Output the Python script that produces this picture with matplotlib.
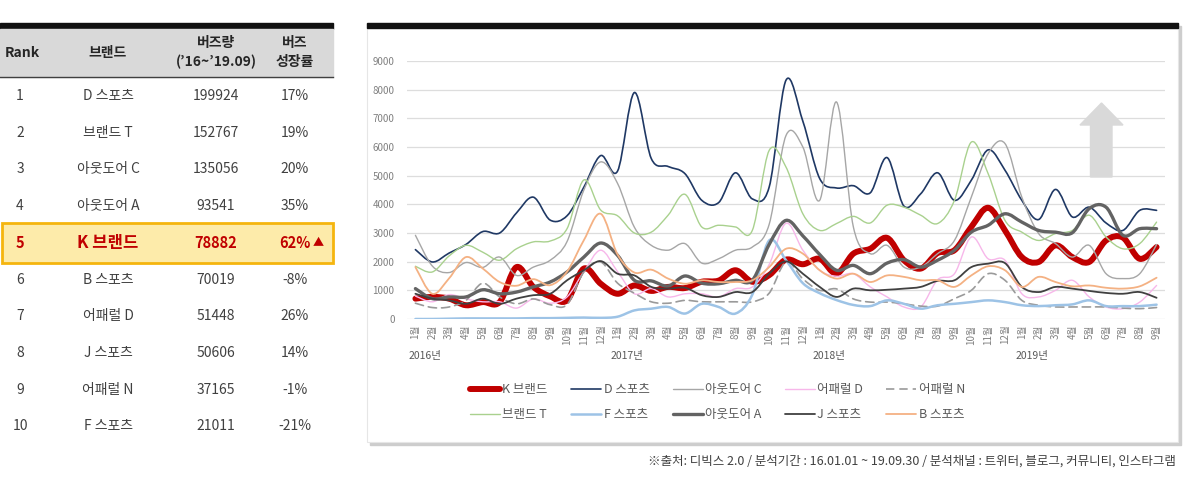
import numpy as np
import matplotlib
matplotlib.use("Agg")
import matplotlib.pyplot as plt
from matplotlib.path import Path
from matplotlib.patches import PathPatch, Rectangle, Polygon
from matplotlib.lines import Line2D

plt.rcParams['font.family'] = ['Noto Sans CJK KR', 'DejaVu Sans']

# ---- table data ----
ranks = list(range(1, 11))
table_brands = ['D 스포츠', '브랜드 T', '아웃도어 C', '아웃도어 A', 'K 브랜드',
                'B 스포츠', '어패럴 D', 'J 스포츠', '어패럴 N', 'F 스포츠']
buzz_total = [199924, 152767, 135056, 93541, 78882, 70019, 51448, 50606, 37165, 21011]
buzz_growth = [17, 19, 20, 35, 62, -8, 26, 14, -1, -21]
highlight = 'K 브랜드'

# ---- monthly buzz, 2016.01 ~ 2019.09 ----
months = [f"{m}월" for m in list(range(1, 13)) * 3 + list(range(1, 10))]
years = ['2016년', '2017년', '2018년', '2019년']

k_brand = [710, 770, 710, 480, 590, 590, 1810, 1120, 790, 650,
           1760, 1230, 880, 1170, 980, 1120, 1080, 1300, 1340, 1700, 1300, 1530,
           2070, 1910, 2100, 1580, 2280, 2450, 2830, 2050, 1760, 2300, 2400, 3210,
           3880, 3090, 2160, 1990, 2570, 2160, 1990, 2740, 2840, 2100, 2510]
d_sports = [2420, 1990, 2300, 2600, 3050, 3000, 3700, 4250, 3450, 3600,
            4600, 5700, 5160, 7900, 5600, 5320, 5070, 4140, 4060, 5100, 4190, 4600,
            8330, 6900, 4900, 4570, 4650, 4400, 5630, 3940, 4370, 5100, 4140, 4840,
            5900, 5190, 4140, 3470, 4520, 3560, 3900, 3350, 3090, 3790, 3790]
outdoor_c = [2920, 1850, 1620, 1970, 1800, 2160, 1520, 1810, 2050, 2700,
             4500, 5480, 4730, 3200, 2570, 2400, 2630, 1950, 2100, 2400, 2510, 3300,
             6400, 6000, 4140, 7570, 3210, 2280, 2570, 1810, 1810, 2280, 2740, 4250,
             5770, 6120, 4250, 2980, 2630, 2160, 2570, 1580, 1410, 1580, 2600]
apparel_d = [800, 600, 850, 700, 600, 600, 380, 700, 550, 770,
             1650, 2400, 1650, 880, 1060, 770, 880, 880, 770, 1060, 1120, 1900,
             3340, 2400, 1700, 1490, 1580, 1120, 770, 420, 420, 1370, 1580, 2860,
             2100, 2050, 880, 770, 1000, 1350, 770, 420, 360, 590, 1170]
apparel_n = [550, 400, 420, 650, 1250, 770, 530, 700, 500, 500,
             1640, 1990, 1250, 900, 600, 550, 650, 600, 600, 600, 600, 900,
             1990, 1400, 1000, 1050, 700, 590, 590, 530, 450, 450, 710, 1000,
             1580, 1350, 650, 480, 420, 420, 420, 420, 380, 360, 400]
brand_t = [1840, 1640, 2200, 2570, 2330, 2050, 2450, 2690, 2720, 3150,
           4850, 3800, 3600, 3000, 3030, 3620, 4350, 3210, 3270, 3210, 3090, 5880,
           5300, 3670, 3090, 3330, 3580, 3350, 3970, 3900, 3620, 3330, 4140, 6170,
           5070, 3440, 3030, 2740, 2980, 3090, 3620, 2860, 2450, 2630, 3380]
f_sports = [0, 0, 10, 20, 20, 20, 20, 30, 30, 40,
            50, 40, 80, 300, 360, 420, 190, 530, 420, 190, 850, 2740,
            2050, 1250, 900, 660, 490, 450, 650, 530, 360, 480, 530, 590,
            650, 590, 480, 450, 480, 510, 650, 450, 450, 450, 500]
outdoor_a = [1060, 710, 770, 770, 1020, 880, 940, 1120, 1290, 1640,
             2160, 2650, 2220, 1350, 1330, 1150, 1500, 1250, 1230, 1350, 1350, 2600,
             3440, 2900, 2250, 1700, 1870, 1580, 1950, 2070, 1810, 2050, 2400, 3030,
             3270, 3670, 3380, 3090, 3030, 3010, 3850, 3900, 2920, 3150, 3150]
j_sports = [880, 710, 650, 530, 710, 530, 710, 830, 880, 1350,
            1700, 2020, 1580, 1520, 1120, 1060, 1090, 830, 770, 940, 940, 1580,
            2010, 1580, 1120, 770, 1060, 1000, 1020, 1060, 1120, 1330, 1350, 1810,
            1930, 1950, 1120, 940, 1120, 1060, 980, 910, 880, 940, 740]
b_sports = [1810, 880, 1420, 2160, 1760, 1290, 1160, 1390, 1180, 1650,
            2750, 3670, 2250, 1620, 1720, 1410, 1230, 1350, 1290, 1290, 1350, 1810,
            2450, 2280, 1700, 1410, 1580, 1290, 1520, 1470, 1350, 1350, 1120, 1520,
            1840, 1700, 1120, 1470, 1290, 1140, 1170, 1090, 1060, 1140, 1440]

# name, values, color, width, dashed
series = [
    ('K 브랜드', k_brand, '#C00000', 4.3, False),
    ('D 스포츠', d_sports, '#1F3864', 1.2, False),
    ('아웃도어 C', outdoor_c, '#A6A6A6', 1.0, False),
    ('어패럴 D', apparel_d, '#F7B7EA', 1.0, False),
    ('어패럴 N', apparel_n, '#9A9A9A', 1.2, True),
    ('브랜드 T', brand_t, '#A9D18E', 1.0, False),
    ('F 스포츠', f_sports, '#9DC3E6', 1.8, False),
    ('아웃도어 A', outdoor_a, '#636363', 2.4, False),
    ('J 스포츠', j_sports, '#404040', 1.3, False),
    ('B 스포츠', b_sports, '#F4B183', 1.3, False),
]


def smooth_path(xs, ys):
    # excel-like smoothed line: bezier segments through every point
    pts = np.column_stack([xs, ys]).astype(float)
    n = len(pts)
    verts = [pts[0]]
    codes = [Path.MOVETO]
    for i in range(n - 1):
        p0 = pts[i - 1] if i > 0 else pts[i]
        p1, p2 = pts[i], pts[i + 1]
        p3 = pts[i + 2] if i + 2 < n else pts[i + 1]
        verts += [p1 + (p2 - p0) / 6, p2 - (p3 - p1) / 6, p2]
        codes += [Path.CURVE4] * 3
    return Path(verts, codes)


W, H = 1188, 480
fig = plt.figure(figsize=(W / 100, H / 100), dpi=100)
fig.patch.set_facecolor('white')

# background axes in pixel coordinates
bg = fig.add_axes([0, 0, 1, 1], zorder=0)
bg.set_xlim(0, W)
bg.set_ylim(H, 0)
bg.axis('off')

# ---------- left table ----------
bg.add_patch(Rectangle((0, 23), 333, 6, color='#111111'))
bg.add_patch(Rectangle((0, 29), 333, 48, color='#D9D9D9'))
bg.plot([0, 333], [77, 77], color='#404040', lw=1)

hdr = dict(fontsize=10, fontweight='bold', color='#262626', va='center')
bg.text(5, 53, 'Rank', ha='left', **hdr)
bg.text(108, 53, '브랜드', ha='center', **hdr)
bg.text(216, 43, '버즈량', ha='center', **hdr)
bg.text(216, 62, '(’16~’19.09)', ha='center', **hdr)
bg.text(295, 43, '버즈', ha='center', **hdr)
bg.text(295, 62, '성장률', ha='center', **hdr)

row_y0, row_h = 96, 36.7
for i, (r, b, t, g) in enumerate(zip(ranks, table_brands, buzz_total, buzz_growth)):
    y = row_y0 + i * row_h
    if b == highlight:
        bg.add_patch(Rectangle((1.5, y - 20), 331, 40, facecolor='#FDEBAA',
                               edgecolor='#F5B50E', lw=2))
        st = dict(fontsize=10.5, fontweight='bold', color='#C00000', va='center')
        bg.text(20, y, str(r), ha='center', **st)
        bg.text(108, y, b, ha='center', fontsize=12, fontweight='bold',
                color='#C00000', va='center')
        bg.text(216, y, str(t), ha='center', **st)
        bg.text(295, y, f"{g}%", ha='center', **st)
        bg.text(313, y, '▲', ha='left', fontsize=8, color='#C00000', va='center')
    else:
        st = dict(fontsize=10, color='#404040', va='center')
        bg.text(20, y, str(r), ha='center', **st)
        bg.text(108, y, b, ha='center', **st)
        bg.text(216, y, str(t), ha='center', **st)
        bg.text(295, y, f"{g}%", ha='center', **st)

# ---------- chart panel ----------
bg.add_patch(Rectangle((370, 26), 811, 419, color='#CDCDCD'))
bg.add_patch(Rectangle((367, 23), 811, 419, facecolor='white', edgecolor='#E6E6E6', lw=0.8))
bg.add_patch(Rectangle((367, 23), 811, 5, color='#111111'))

ax = fig.add_axes([407 / W, (H - 319) / H, (1165 - 407) / W, (319 - 61) / H], zorder=2)
ax.set_facecolor('none')
x = np.arange(len(months))
for z, (name, vals, col, lw, dashed) in enumerate(series):
    ls = (0, (5, 3)) if dashed else '-'
    ax.add_patch(PathPatch(smooth_path(x, vals), fill=False, edgecolor=col, lw=lw,
                           linestyle=ls, capstyle='round', joinstyle='round',
                           zorder=3 + z * 0.1))

ax.set_xlim(-0.5, len(months) - 0.5)
ax.set_ylim(0, 9000)
ax.set_yticks(np.arange(0, 9001, 1000))
ax.set_xticks(x)
ax.set_xticklabels(months, rotation=90, fontsize=7, color='#808080')
ax.tick_params(axis='y', length=0, pad=9, labelsize=7, labelcolor='#808080')
ax.tick_params(axis='x', length=0, pad=4)
for s in ax.spines.values():
    s.set_visible(False)
ax.set_axisbelow(True)
ax.grid(axis='y', color='#DDDDDD', lw=0.9)

for k, yr in enumerate(years):
    ax.text(k * 12 - 0.4, -0.145, yr, transform=ax.get_xaxis_transform(),
            ha='left', va='center', fontsize=7.5, color='#595959')

# up arrow
arrow = [(1090.5, 177), (1090.5, 125), (1080, 125), (1101.5, 103), (1123, 125),
         (1112, 125), (1112, 177)]
ax.add_patch(Polygon(arrow, closed=True, color='#D9D9D9', transform=bg.transData,
                     zorder=1.5))

handles = [Line2D([], [], color=c, lw=lw, linestyle=(0, (5, 3)) if d else '-',
                  solid_capstyle='round')
           for _, _, c, lw, d in series]
order = [0, 5, 1, 6, 2, 7, 3, 8, 4, 9]
leg = fig.legend([handles[i] for i in order], [series[i][0] for i in order],
                 ncol=5, loc='upper left', bbox_to_anchor=(470 / W, 1 - 383 / H),
                 frameon=False, fontsize=9, handlelength=2.4, handletextpad=0.2,
                 columnspacing=1.85, labelspacing=0.95, borderpad=0, borderaxespad=0)
for t in leg.get_texts():
    t.set_color('#595959')

bg.text(1176, 461, '※출처: 디빅스 2.0 / 분석기간 : 16.01.01 ~ 19.09.30 / 분석채널 : 트위터, 블로그, 커뮤니티, 인스타그램',
        ha='right', va='center', fontsize=9, color='#404040')

fig.savefig('out.png', dpi=100, facecolor='white')
